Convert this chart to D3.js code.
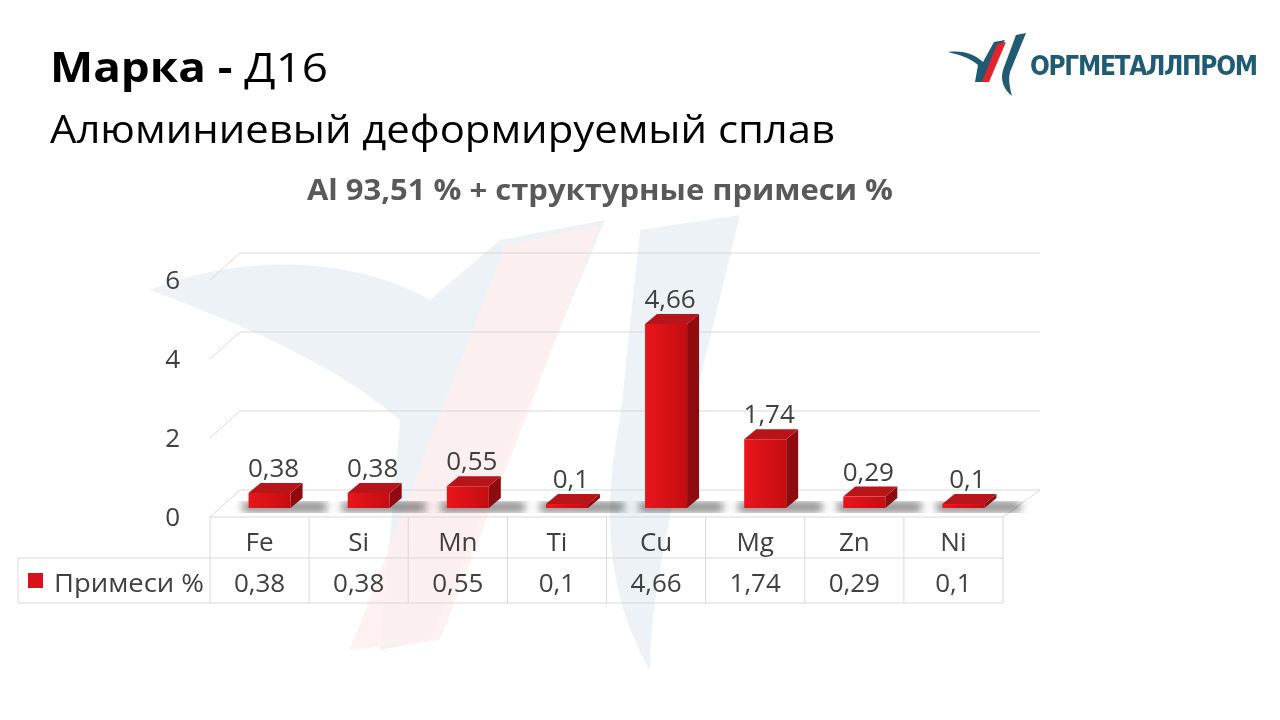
<!DOCTYPE html><html><head><meta charset="utf-8"><script src="https://cdn.jsdelivr.net/npm/d3@7"></script>
<style>body{margin:0;background:#fff}svg{font-family:"Open Sans",sans-serif}</style></head><body><svg id="c" width="1280" height="720"></svg>
<script>
const categories=["Fe","Si","Mn","Ti","Cu","Mg","Zn","Ni"];
const values=[0.38,0.38,0.55,0.1,4.66,1.74,0.29,0.1];
const labels=["0,38","0,38","0,55","0,1","4,66","1,74","0,29","0,1"];
const yTicks=[0,2,4,6];
const seriesName="Примеси %";
const svg=d3.select("#c");
const defs=svg.append("defs");
const g1=defs.append("linearGradient").attr("id","fr").attr("x1",0).attr("x2",1);
g1.append("stop").attr("offset",0).attr("stop-color","#e8161c");g1.append("stop").attr("offset",1).attr("stop-color","#c40d12");
defs.append("filter").attr("id","bl").append("feGaussianBlur").attr("stdDeviation",4);
const wm=svg.append("g").attr("opacity",0.09);
wm.append("path").attr("d","M150,290 C250,250 360,260 430,300 L500,240 L605,220 L430,640 L380,650 L400,420 C330,360 230,320 150,290Z").attr("fill","#2a6a8a");
wm.append("path").attr("d","M505,245 L600,225 L440,640 L350,650Z").attr("fill","#ff4040").attr("opacity",0.8);
wm.append("path").attr("d","M640,230 L740,215 L690,420 C670,520 650,600 650,670 C610,600 600,520 620,420Z").attr("fill","#2a6a8a");
svg.append("text").attr("x",50).attr("y",82).attr("font-size",41).attr("fill","#000").attr("textLength",278).attr("lengthAdjust","spacingAndGlyphs").html('<tspan font-weight="bold">Марка - </tspan>Д16');
svg.append("text").attr("x",50).attr("y",143).attr("font-size",39).attr("fill","#000").attr("textLength",785).attr("lengthAdjust","spacingAndGlyphs").text("Алюминиевый деформируемый сплав");
svg.append("text").attr("x",307).attr("y",200).attr("font-size",28).attr("font-weight","bold").attr("fill","#595959").attr("textLength",586).attr("lengthAdjust","spacingAndGlyphs").text("Al 93,51 % + структурные примеси %");
const lg=svg.append("g");
lg.append("path").attr("d","M948,52 C965,50 975,55 983,62 L994,42 L1005,40 L985,82 L975,82 L978,65 C970,58 960,55 948,52Z").attr("fill","#1f5b73");
lg.append("path").attr("d","M997,44 L1006,42 L989,82 L982,82Z").attr("fill","#e3232a");
lg.append("path").attr("d","M1016,35 L1026,33 L1010,72 C1008,80 1010,88 1012,96 C1004,90 1000,80 1003,70Z").attr("fill","#1f5b73");
lg.append("text").attr("x",1030).attr("y",75).attr("font-size",26).attr("font-weight","bold").attr("fill","#1f5b73").attr("font-family","DejaVu Sans Condensed, sans-serif").attr("textLength",228).text("ОРГМЕТАЛЛПРОМ");
const x0=210,x1=1003,dx=30,dy=-27;
const x=d3.scaleBand().domain(categories).range([x0,x1]);
const y=d3.scaleLinear().domain([0,6]).range([517,280]);
const gr=svg.append("g");
const fs=26;
yTicks.forEach(t=>{
  gr.append("line").attr("x1",x0+dx).attr("x2",1040).attr("y1",y(t)+dy).attr("y2",y(t)+dy).attr("stroke","#d9d9d9");
  gr.append("line").attr("x1",x0).attr("x2",x0+dx).attr("y1",y(t)).attr("y2",y(t)+dy).attr("stroke","#d9d9d9");
  gr.append("text").attr("x",180).attr("y",y(t)+9).attr("text-anchor","end").attr("font-size",fs).attr("fill","#404040").text(t);
});
gr.append("line").attr("x1",x1).attr("x2",1040).attr("y1",517).attr("y2",517+dy).attr("stroke","#d9d9d9");
gr.append("line").attr("x1",x0).attr("x2",x1).attr("y1",517).attr("y2",517).attr("stroke","#d9d9d9");
const bw=42,bd=12,bdy=-10,base=508;
const bars=svg.append("g").selectAll("g").data(categories).join("g");
bars.append("rect").attr("x",d=>x(d)+x.bandwidth()/2-bw/2+4).attr("y",base-6).attr("width",bw+bd+30).attr("height",10).attr("fill","#222").attr("opacity",0.55).attr("filter","url(#bl)");
bars.each(function(d,i){
  const g=d3.select(this);const L=x(d)+x.bandwidth()/2-bw/2+10,R=L+bw;
  const top=base-(y(0)-y(values[i]));
  g.append("path").attr("d",`M${R},${base}L${R+bd},${base+bdy}L${R+bd},${top+bdy}L${R},${top}Z`).attr("fill","#8e0c10");
  g.append("path").attr("d",`M${L},${top}L${L+bd},${top+bdy}L${R+bd},${top+bdy}L${R},${top}Z`).attr("fill","#b8151a");
  g.append("rect").attr("x",L).attr("y",top).attr("width",bw).attr("height",base-top).attr("fill","url(#fr)");
  g.append("text").attr("x",L+bw/2+4).attr("y",top+bdy-6).attr("text-anchor","middle").attr("font-size",fs).attr("fill","#404040").text(labels[i]);
});
const tb=svg.append("g");
const c="#d9d9d9";
tb.append("line").attr("x1",18).attr("x2",x1).attr("y1",558).attr("y2",558).attr("stroke",c);
tb.append("line").attr("x1",18).attr("x2",x1).attr("y1",603).attr("y2",603).attr("stroke",c);
tb.append("line").attr("x1",18).attr("x2",18).attr("y1",558).attr("y2",603).attr("stroke",c);
categories.concat(["_end"]).forEach(d=>{const xx=d==="_end"?x1:x(d);tb.append("line").attr("x1",xx).attr("x2",xx).attr("y1",517).attr("y2",603).attr("stroke",c);});
categories.forEach((d,i)=>{
  tb.append("text").attr("x",x(d)+x.bandwidth()/2).attr("y",551).attr("text-anchor","middle").attr("font-size",fs).attr("fill","#404040").text(d);
  tb.append("text").attr("x",x(d)+x.bandwidth()/2).attr("y",592).attr("text-anchor","middle").attr("font-size",fs).attr("fill","#404040").text(labels[i]);
});
tb.append("rect").attr("x",28).attr("y",573).attr("width",15).attr("height",15).attr("fill","#d8111a");
tb.append("text").attr("x",54).attr("y",592).attr("font-size",fs).attr("fill","#404040").attr("textLength",150).attr("lengthAdjust","spacingAndGlyphs").text(seriesName);
</script></body></html>
